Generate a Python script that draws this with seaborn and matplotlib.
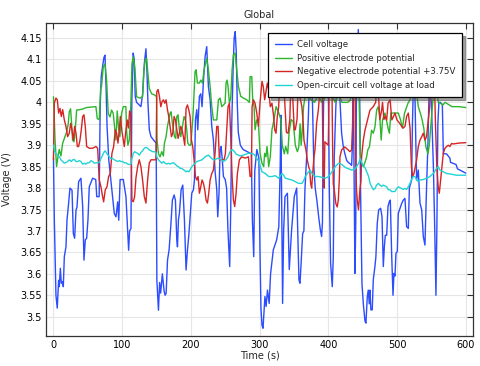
import matplotlib
matplotlib.use("Agg")

import matplotlib.pyplot as plt
import pandas as pd
import seaborn as sns
from matplotlib.ticker import FuncFormatter, MultipleLocator

# (time s, voltage V) pairs
CELL = [(0, 3.87), (1.2, 3.73), (3.6, 3.55), (5.5, 3.52), (7.5, 3.585), (8.5, 3.57), (10, 3.613),
        (11.4, 3.578), (13.4, 3.582), (14.3, 3.57), (15.8, 3.64), (18.2, 3.663), (19.7, 3.726),
        (21.6, 3.757), (24, 3.80), (27, 3.795), (28.9, 3.694), (30.8, 3.683), (32.8, 3.749),
        (34.2, 3.755), (36.6, 3.815), (40, 3.823), (42.5, 3.757), (44.4, 3.632), (46.3, 3.679),
        (48.3, 3.683), (50.2, 3.726), (52.1, 3.803), (57, 3.823), (61.5, 3.82), (63, 3.78),
        (66.5, 3.78), (68, 3.99), (69.5, 4.06), (71.5, 4.084), (73.5, 4.105), (75, 4.11),
        (76.5, 4.04), (78, 3.944), (80.5, 3.866), (83, 3.827), (86, 3.78), (88.5, 3.741),
        (91, 3.733), (93.5, 3.768), (95, 3.725), (97, 3.82), (101.6, 3.82), (105.5, 3.78),
        (108, 3.70), (109.4, 3.655), (110.8, 3.70), (112.8, 3.706), (114, 3.998), (116, 4.115),
        (117.6, 4.10), (119, 4.014), (121, 4.0), (127.3, 3.99), (129.8, 4.02), (132.2, 4.09),
        (134.6, 4.125), (136, 4.076), (137.5, 4.0), (139.5, 3.936), (141.9, 3.92), (146.7, 3.91),
        (149.5, 3.905), (150.5, 3.585), (152.8, 3.515), (154.5, 3.58), (156, 3.555), (158.5, 3.60),
        (161, 3.56), (162.5, 3.55), (164, 3.555), (166, 3.632), (168.3, 3.656), (170.7, 3.71),
        (173.1, 3.772), (175.6, 3.784), (177.5, 3.772), (179.5, 3.679), (180.5, 3.663),
        (181.9, 3.726), (183.3, 3.741), (185.8, 3.796), (188.2, 3.807), (190.6, 3.726),
        (193, 3.609), (195, 3.655), (197, 3.69), (198.9, 3.733), (201.3, 3.788), (203.7, 3.796),
        (205.2, 3.819), (206.6, 3.959), (208.6, 3.983), (210, 3.936), (212.4, 4.014),
        (214.4, 4.02), (216.3, 3.99), (218.3, 4.05), (220.7, 4.107), (223.1, 4.13),
        (225.5, 4.037), (228, 4.006), (230.4, 3.944), (232.8, 3.912), (235.2, 3.84),
        (237.7, 3.796), (239.1, 3.733), (241, 3.79), (242.5, 3.889), (244, 3.897),
        (245.4, 3.873), (247.4, 3.827), (250, 3.82), (252, 3.80), (254, 3.70), (256.5, 3.617),
        (258, 3.75), (259.5, 3.95), (261.5, 4.08), (263, 4.15), (264.5, 4.165), (266, 4.12),
        (267.5, 4.0), (269, 3.93), (272, 3.90), (276, 3.89), (282, 3.885), (288, 3.88),
        (289.5, 3.726), (291.5, 3.64), (293, 3.84), (296, 3.89), (299, 3.87), (300.5, 3.66),
        (302, 3.52), (303.5, 3.48), (305, 3.473), (307.8, 3.547), (309.5, 3.524), (311.5, 3.562),
        (314, 3.531), (316, 3.60), (320, 3.656), (324.8, 3.679), (328, 3.71), (330, 3.85),
        (331, 3.97), (332, 3.80), (333.5, 3.531), (335, 3.70), (337, 3.78), (340.5, 3.788),
        (343.2, 3.61), (346.6, 3.702), (350.5, 3.78), (354, 3.80), (357.3, 3.586),
        (358.8, 3.578), (360.3, 3.62), (362.7, 3.694), (364.5, 3.70), (366, 3.796),
        (368.5, 3.873), (371, 3.966), (372.5, 4.05), (375, 4.06), (377, 4.0), (379, 3.85),
        (381, 3.80), (383.5, 3.77), (386, 3.733), (388.5, 3.702), (390.3, 3.687), (391.5, 3.72),
        (392.5, 3.90), (393.5, 4.05), (397, 4.06), (400, 4.05), (401.5, 3.80), (403.4, 3.624),
        (405.8, 3.57), (407.3, 3.64), (408.7, 3.873), (411, 3.99), (413, 4.05), (416, 4.05),
        (417, 4.005), (419.4, 3.928), (421.9, 3.896), (424, 3.881), (426.7, 3.865), (429, 3.86),
        (431.5, 3.857), (434, 3.853), (435.4, 3.912), (436.4, 4.05), (437.8, 3.80),
        (438.8, 3.601), (440, 3.718), (441, 4.05), (443.7, 4.17), (445.5, 4.05), (447, 3.796),
        (449, 3.578), (451, 3.53), (453.4, 3.49), (454.8, 3.485), (456.8, 3.547), (458.2, 3.562),
        (459.7, 3.53), (460.7, 3.562), (462, 3.516), (464, 3.516), (465.5, 3.586),
        (467.9, 3.617), (469.3, 3.64), (471.3, 3.718), (473.3, 3.749), (476.2, 3.753),
        (478.2, 3.733), (480.1, 3.617), (481.6, 3.663), (483, 3.69), (485, 3.69), (486.9, 3.757),
        (488.8, 3.768), (490.3, 3.772), (492.2, 3.648), (494.2, 3.55), (495.6, 3.601),
        (497.1, 3.595), (498.5, 3.648), (500.5, 3.652), (501.9, 3.741), (504.4, 3.753),
        (506.8, 3.764), (509.2, 3.772), (511.6, 3.776), (514, 3.71), (516.5, 3.706), (518, 3.80),
        (521.3, 3.819), (522.5, 3.95), (524, 4.05), (526, 4.03), (527.5, 3.90), (528.6, 3.819),
        (531, 3.842), (533.5, 3.765), (536, 3.749), (538.3, 3.687), (540.7, 3.667), (543, 3.80),
        (545, 3.90), (547, 4.05), (550, 4.0), (553, 3.85), (555, 3.70), (556.7, 3.55),
        (558, 3.70), (559.5, 3.95), (561, 4.0), (563, 4.0), (566, 3.995), (567.5, 3.88),
        (572, 3.88), (577, 3.87), (578, 3.86), (586, 3.855), (588, 3.845), (600, 3.835)]

POSITIVE = [(0, 4.013), (2.3, 3.912), (4.5, 3.85), (6.5, 3.873), (8.4, 3.89), (10.9, 3.875),
            (13.3, 3.904), (16.7, 3.92), (19.1, 3.93), (21.5, 3.95), (23, 3.978), (24.9, 3.985),
            (26.4, 3.95), (27.8, 3.912), (29.8, 3.908), (31.7, 3.935), (33.7, 3.982),
            (38.5, 3.983), (43.4, 3.985), (48.2, 3.988), (61.8, 3.99), (63.7, 3.962),
            (66.6, 3.96), (68.6, 4.03), (70, 4.038), (72.5, 4.083), (74.9, 4.09), (77.3, 4.052),
            (79.7, 3.974), (82.2, 3.966), (84.6, 3.982), (87, 3.974), (89.4, 3.935),
            (90.9, 3.912), (92.8, 3.98), (94.8, 3.94), (96.7, 3.92), (99.1, 3.974), (101.6, 3.99),
            (105.4, 3.99), (106.4, 3.935), (108.3, 3.90), (110.3, 3.912), (112.2, 3.974),
            (114.2, 4.09), (116.1, 4.106), (118.5, 4.08), (121, 4.013), (125.8, 4.01),
            (129.7, 4.013), (131.6, 4.075), (133.6, 4.099), (135.5, 4.103), (137.4, 4.068),
            (139.4, 4.033), (142.8, 4.02), (147.6, 4.017), (150, 4.013), (150.8, 3.912),
            (152.8, 3.88), (155.2, 3.873), (157.6, 3.885), (160, 3.875), (161.5, 3.905),
            (163.9, 3.92), (165.9, 3.944), (167.8, 3.959), (169.8, 3.975), (171.2, 3.978),
            (173.1, 3.952), (174.6, 3.936), (176.1, 3.92), (178, 3.916), (179.5, 3.967),
            (181.4, 3.971), (183.3, 3.936), (185.3, 3.92), (187.7, 3.944), (190.1, 3.967),
            (192.1, 3.959), (194, 3.936), (195.5, 3.905), (197.9, 3.90), (199.8, 3.90),
            (202.7, 3.959), (204, 4.0), (206.1, 4.072), (207.6, 4.076), (209.5, 4.045),
            (212.4, 4.045), (214.4, 4.052), (216.8, 4.045), (219.2, 4.076), (221.6, 4.092),
            (223.1, 4.103), (225.5, 4.076), (228, 4.037), (230.4, 3.99), (232.8, 3.959),
            (235.2, 3.959), (237.7, 3.959), (240.1, 4.006), (242.5, 4.01), (245, 3.99),
            (247.4, 3.994), (249.8, 3.998), (251.2, 4.045), (252.7, 4.052), (254.1, 4.037),
            (256.1, 3.998), (258, 4.01), (260, 4.076), (261.9, 4.111), (264.3, 4.115),
            (266.8, 4.076), (269.2, 4.037), (272.6, 4.014), (276.5, 4.01), (281.3, 4.006),
            (285.2, 4.0), (286.2, 4.06), (288.6, 4.06), (290, 4.006), (292, 3.99), (293.4, 3.936),
            (295.8, 3.959), (298.3, 3.952), (300.7, 3.881), (303.5, 3.858), (306, 3.85),
            (307.4, 3.881), (309.3, 3.873), (310.8, 3.897), (312.2, 3.873), (313.2, 3.85),
            (315.6, 3.873), (318, 3.936), (321, 3.96), (324, 3.99), (328, 3.975), (331, 3.96),
            (333, 3.90), (336, 3.88), (338, 3.897), (341, 3.88), (343, 3.93), (346, 3.96),
            (349, 3.955), (352, 3.90), (355, 3.885), (357, 3.895), (359, 3.95), (360.5, 3.90),
            (362, 3.93), (364, 3.99), (367, 4.02), (372, 4.01), (380, 4.0), (386, 4.02),
            (390, 4.0), (395, 4.01), (400, 4.03), (405, 4.02), (410, 4.0), (415, 4.02),
            (420, 4.0), (428, 4.0), (432, 4.005), (436, 4.03), (438, 4.06), (441, 4.09),
            (443.5, 4.10), (445, 4.0), (446.5, 3.88), (448, 3.86), (451, 3.85), (453.4, 3.86),
            (455.8, 3.873), (457.5, 3.889), (460, 3.897), (463, 3.935), (465.5, 3.928),
            (468, 3.943), (470.4, 3.982), (472.8, 3.99), (475, 3.965), (477, 3.912), (479, 3.96),
            (482.5, 3.975), (487, 3.94), (489, 3.928), (491, 3.975), (495, 3.975), (498, 3.975),
            (502, 3.975), (505, 3.96), (508, 3.94), (511, 3.975), (516, 3.998), (519, 4.006),
            (521.5, 4.037), (524, 4.06), (528, 4.03), (531, 3.99), (534, 3.975), (536.5, 3.96),
            (539, 3.94), (542, 3.897), (545, 3.88), (547, 3.90), (550, 3.96), (553, 4.02),
            (556, 4.06), (558, 4.04), (560, 4.0), (563, 3.998), (567, 3.994), (570, 4.0),
            (575, 3.995), (580, 3.99), (590, 3.99), (600, 3.988)]

NEGATIVE = [(0, 3.866), (1.2, 3.998), (3.6, 4.01), (5.6, 4.006), (7.5, 3.975), (9.5, 3.986),
            (11.4, 3.967), (13.4, 3.983), (15.8, 3.959), (18.2, 3.944), (20.6, 3.92), (23, 3.928),
            (25, 3.951), (26.9, 3.936), (28.9, 3.912), (30.8, 3.944), (32.8, 3.928),
            (34.7, 3.897), (36.6, 3.897), (38.6, 3.912), (40.5, 3.936), (42.5, 3.967),
            (44.4, 3.971), (46.3, 3.944), (48.3, 3.897), (52.1, 3.893), (57, 3.893),
            (61.8, 3.897), (64.3, 3.893), (66.7, 3.819), (69.1, 3.803), (71.5, 3.78), (73, 3.768),
            (75.4, 3.796), (77.9, 3.803), (80.3, 3.827), (82.7, 3.834), (85.1, 3.881),
            (87.6, 3.897), (90, 3.936), (91.9, 3.928), (93.9, 3.905), (95.8, 3.936),
            (97.3, 3.967), (99.7, 3.932), (101.6, 3.912), (103.1, 3.897), (105.5, 3.936),
            (107.4, 3.959), (109, 3.94), (110.8, 3.98), (112.3, 3.975), (114.2, 3.772),
            (116.1, 3.768), (118.1, 3.78), (120, 3.823), (122.5, 3.85), (124.9, 3.866),
            (127.3, 3.85), (129.7, 3.819), (132.2, 3.78), (134.6, 3.765), (137, 3.819),
            (139.4, 3.858), (141.9, 3.866), (146.7, 3.866), (149.3, 3.866), (150.4, 4.025),
            (152.3, 4.03), (154.2, 4.014), (156.2, 3.99), (158.1, 4.002), (160, 4.006),
            (162, 3.998), (163.9, 4.006), (165.9, 3.983), (167.8, 3.967), (169.7, 3.944),
            (171.7, 3.92), (173.6, 3.928), (175.6, 3.967), (177.5, 3.959), (179.5, 3.936),
            (181.4, 3.916), (183.3, 3.928), (185.3, 3.944), (187.2, 3.936), (189.1, 3.92),
            (191.1, 3.90), (193, 3.986), (195, 3.994), (196.9, 3.983), (198.9, 3.967),
            (200.8, 3.912), (202.7, 3.897), (204.7, 3.866), (206.6, 3.827), (208.6, 3.819),
            (210.5, 3.827), (212.4, 3.788), (214.4, 3.803), (216.3, 3.819), (218.3, 3.811),
            (220.2, 3.796), (222.1, 3.772), (224.1, 3.765), (226, 3.788), (228, 3.819),
            (230.4, 3.834), (232.8, 3.842), (235.2, 3.881), (237.7, 3.944), (239.6, 3.944),
            (241.5, 3.866), (243.5, 3.866), (246.4, 3.866), (248.3, 3.866), (250.2, 3.88),
            (252.2, 3.936), (254.1, 3.99), (256.1, 3.998), (258, 3.92), (260, 3.827),
            (261.9, 3.772), (263.8, 3.757), (265.8, 3.788), (267.7, 3.834), (270.6, 3.866),
            (274, 3.873), (279, 3.87), (283.7, 3.873), (286.2, 3.827), (288.1, 3.827),
            (289.1, 3.99), (291, 4.006), (293.4, 3.998), (295.9, 3.975), (298.3, 3.944),
            (300.7, 4.0), (303.5, 4.049), (305.4, 4.037), (307.4, 4.006), (309.3, 4.025),
            (311.3, 4.045), (313.2, 4.03), (315.6, 3.99), (318, 3.998), (320.5, 3.967),
            (322, 3.936), (323.9, 3.928), (325.8, 3.967), (327.8, 3.99), (330.2, 4.08),
            (332, 4.12), (334, 4.10), (336, 4.02), (339, 3.93), (341.5, 3.928), (344, 3.96),
            (346, 4.07), (348, 4.02), (350.5, 3.936), (352, 3.936), (354.5, 3.96), (357, 4.08),
            (359, 4.01), (361.6, 3.99), (363.5, 3.951), (364.6, 3.912), (367.5, 3.889),
            (369.5, 3.865), (371.5, 3.85), (373, 3.842), (374.3, 3.811), (375.8, 3.80),
            (377.3, 3.834), (379.2, 3.873), (380.6, 3.889), (383, 3.951), (385.5, 3.982),
            (387.9, 4.029), (389.5, 4.12), (391, 4.05), (392.5, 3.85), (394, 3.80), (395, 3.908),
            (397.5, 3.904), (400, 3.90), (401.5, 4.05), (403.4, 4.12), (405, 4.08),
            (406.5, 3.873), (407.3, 3.81), (408.7, 3.796), (411, 3.764), (413, 3.756),
            (414.6, 3.772), (416, 3.818), (417, 3.873), (419.4, 3.889), (424, 3.896),
            (429, 3.889), (431.5, 3.885), (434, 3.889), (435.4, 3.95), (436.4, 4.08),
            (437.5, 4.12), (438.8, 4.10), (440, 3.87), (441, 3.80), (442.2, 3.772), (444, 3.749),
            (446, 3.796), (447.6, 3.818), (448.5, 3.873), (451, 3.912), (453.4, 3.935),
            (455.8, 3.951), (458.2, 3.966), (460.7, 3.982), (465.5, 3.99), (469, 4.0),
            (471, 4.06), (473, 4.02), (475, 3.96), (477.5, 3.98), (479, 4.0), (481, 3.96),
            (483, 3.967), (485, 3.959), (487, 3.998), (490, 4.006), (492.5, 3.959), (495, 3.967),
            (497, 3.975), (500, 3.959), (502, 3.955), (504, 3.951), (506.8, 3.944), (509, 3.94),
            (511.6, 3.944), (514, 3.967), (516.5, 3.975), (519, 3.94), (521, 3.85),
            (522.8, 3.827), (524.7, 3.834), (526.7, 3.85), (528.6, 3.866), (531, 3.897),
            (533.5, 3.912), (536, 3.92), (538.3, 3.928), (540.7, 3.912), (543, 3.92),
            (545.5, 3.959), (547.6, 3.99), (550, 4.06), (552, 4.10), (554, 4.09), (556, 3.95),
            (558, 3.85), (560, 3.803), (561.6, 3.788), (563.5, 3.819), (565.5, 3.85),
            (567.4, 3.881), (569.8, 3.893), (572.3, 3.897), (574.7, 3.90), (577, 3.897),
            (579.5, 3.904), (582, 3.903), (590, 3.905), (600, 3.906)]

OPEN_CIRCUIT = [(0, 3.90), (1.7, 3.885), (3.6, 3.881), (6.1, 3.877), (8.5, 3.873), (10.9, 3.866),
                (13.4, 3.862), (15.8, 3.858), (18.2, 3.86), (20.6, 3.862), (23, 3.866),
                (25.9, 3.862), (28.3, 3.866), (30.3, 3.867), (32.7, 3.862), (35.2, 3.862),
                (37.6, 3.864), (40, 3.862), (42.4, 3.856), (44.9, 3.858), (47.3, 3.856),
                (49.7, 3.859), (52.1, 3.859), (54.6, 3.864), (57, 3.862), (59.4, 3.858),
                (61.8, 3.859), (64.3, 3.859), (66.7, 3.86), (69.1, 3.869), (71.5, 3.877),
                (74, 3.885), (75.4, 3.887), (77.4, 3.881), (79.3, 3.877), (81.3, 3.873),
                (83.7, 3.869), (86.1, 3.869), (88.5, 3.866), (91, 3.864), (93.4, 3.862),
                (95.8, 3.864), (98.2, 3.862), (100.7, 3.862), (103.1, 3.859), (105.5, 3.859),
                (108, 3.856), (110.4, 3.855), (112.8, 3.856), (114.2, 3.869), (116.2, 3.881),
                (118.1, 3.885), (120, 3.883), (122.5, 3.881), (124.9, 3.877), (127.3, 3.883),
                (129.7, 3.887), (132.2, 3.893), (134.6, 3.895), (137, 3.893), (139.5, 3.889),
                (141.9, 3.887), (144.3, 3.885), (146.7, 3.885), (149.1, 3.883), (150.4, 3.873),
                (152.8, 3.866), (155.2, 3.862), (157.6, 3.858), (160, 3.862), (162.5, 3.858),
                (164.9, 3.856), (167.3, 3.858), (169.7, 3.856), (172.2, 3.858), (174.6, 3.859),
                (177, 3.856), (179.4, 3.852), (181.9, 3.85), (184.3, 3.846), (186.6, 3.846),
                (190, 3.842), (193, 3.838), (195, 3.84), (197.3, 3.838), (201.3, 3.85),
                (206, 3.858), (208.6, 3.862), (212.4, 3.864), (216.3, 3.866), (220.7, 3.873),
                (225.5, 3.877), (228, 3.873), (230.4, 3.869), (233, 3.866), (235.2, 3.866),
                (238, 3.869), (240.5, 3.87), (244, 3.866), (247.4, 3.862), (251, 3.866),
                (254, 3.873), (257, 3.885), (260, 3.89), (263, 3.886), (266, 3.879),
                (269, 3.877), (272, 3.875), (276, 3.877), (280, 3.879), (283, 3.881),
                (286, 3.881), (290, 3.88), (293, 3.877), (296, 3.869), (299, 3.862),
                (303.5, 3.838), (308.4, 3.834), (313.2, 3.827), (318, 3.827), (322.9, 3.829),
                (327.8, 3.823), (332.6, 3.834), (335, 3.83), (337.5, 3.823), (342.3, 3.821),
                (347.1, 3.819), (352, 3.815), (356.8, 3.811), (361.7, 3.811), (364.1, 3.817),
                (366.5, 3.827), (371.4, 3.838), (373.8, 3.842), (376.3, 3.834), (381.1, 3.827),
                (386, 3.827), (390.8, 3.825), (395.7, 3.823), (400.5, 3.827), (405.4, 3.838),
                (410.2, 3.85), (415, 3.858), (419.9, 3.855), (424.8, 3.848), (429.6, 3.845),
                (434.5, 3.842), (439.3, 3.845), (444.2, 3.858), (446.6, 3.869), (449, 3.858),
                (454, 3.846), (458.7, 3.827), (461, 3.81), (465.6, 3.796), (468, 3.799),
                (470.4, 3.807), (472.8, 3.811), (475.3, 3.807), (477.7, 3.804), (480.1, 3.807),
                (485, 3.803), (487.4, 3.796), (489.8, 3.796), (492.2, 3.792), (497.1, 3.792),
                (499.5, 3.799), (502, 3.803), (506.8, 3.799), (509.2, 3.797), (511.6, 3.799),
                (514, 3.797), (516.5, 3.803), (518.9, 3.811), (521.3, 3.82), (523.8, 3.827),
                (526.2, 3.827), (528.6, 3.819), (531, 3.815), (533.5, 3.819), (538.3, 3.82),
                (543.2, 3.823), (548, 3.827), (550.4, 3.831), (552.9, 3.834), (557.7, 3.846),
                (560.1, 3.85), (562.5, 3.842), (567.4, 3.838), (572.3, 3.834), (577.1, 3.833),
                (586.8, 3.83), (600, 3.83)]

SERIES = [
    ("Cell voltage", CELL, "#2b4cff"),
    ("Positive electrode potential", POSITIVE, "#2db52d"),
    ("Negative electrode potential +3.75V", NEGATIVE, "#d62424"),
    ("Open-circuit cell voltage at load", OPEN_CIRCUIT, "#22d3d3"),
]

X_TICKS = [0, 100, 200, 300, 400, 500, 600]


def main() -> None:
    sns.set_theme(style="whitegrid")
    plt.rcParams["font.family"] = ["DejaVu Sans"]

    fig = plt.figure(figsize=(4.81, 3.66), dpi=100)
    ax = fig.add_axes([0.0956, 0.082, 0.8877, 0.855])

    for name, points, color in SERIES:
        df = pd.DataFrame(points, columns=["time", "voltage"])
        sns.lineplot(data=df, x="time", y="voltage", color=color, linewidth=1.0,
                     estimator=None, sort=False, label=name, ax=ax)

    ax.set_xlim(-10.9, 610.6)
    ax.set_ylim(3.455, 4.185)
    ax.set_xticks(X_TICKS)
    ax.yaxis.set_major_locator(MultipleLocator(0.05))
    ax.yaxis.set_major_formatter(FuncFormatter(lambda y, _: f"{y:g}"))
    ax.set_facecolor("white")
    ax.grid(True, color="#e6e6e6", linewidth=0.8)
    for side in ax.spines.values():
        side.set_color("#333333")
        side.set_linewidth(0.9)
    ax.tick_params(direction="in", length=4, width=0.8, colors="#333333", labelsize=7,
                   top=True, right=True, pad=3, labelcolor="black")

    ax.set_title("Global", fontsize=7, pad=4)
    ax.set_xlabel("Time (s)", fontsize=7, labelpad=0)
    ax.set_ylabel("Voltage (V)", fontsize=7, labelpad=6)

    leg = ax.legend(loc="upper right", bbox_to_anchor=(0.975, 0.968), fontsize=6.2,
                    frameon=True, fancybox=False, shadow=True, handlelength=2.0,
                    handletextpad=0.6, borderpad=0.8, labelspacing=0.55, borderaxespad=0)
    leg.get_frame().set_edgecolor("black")
    leg.get_frame().set_linewidth(0.9)
    leg.get_frame().set_alpha(1)

    fig.savefig("out.png", dpi=100)
    plt.close(fig)


if __name__ == "__main__":
    main()
